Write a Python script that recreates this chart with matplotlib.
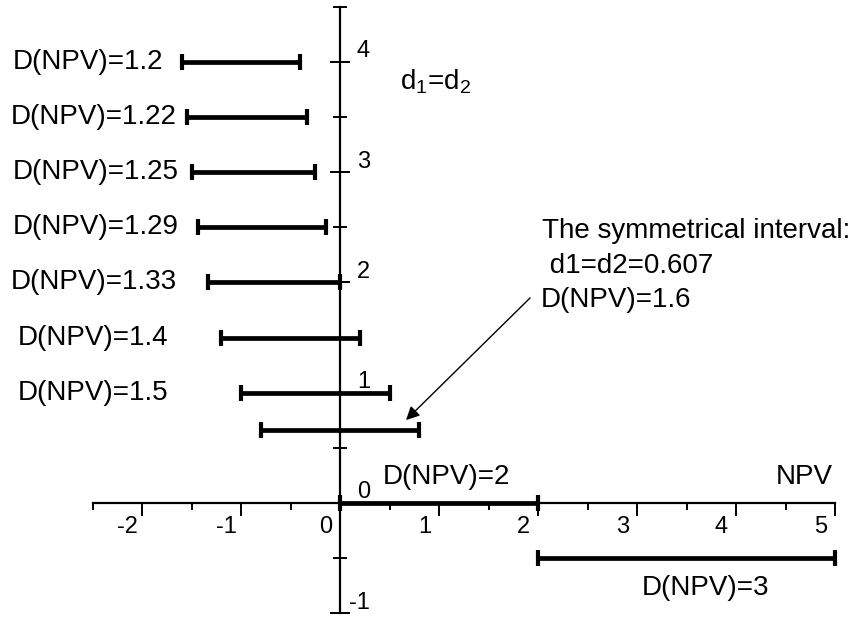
import matplotlib
matplotlib.use("Agg")
import matplotlib.pyplot as plt
from matplotlib.transforms import offset_copy

plt.rcParams['font.family'] = ['Liberation Sans', 'DejaVu Sans']
plt.rcParams['mathtext.fontset'] = 'custom'
plt.rcParams['mathtext.rm'] = 'Liberation Sans'
plt.rcParams['mathtext.it'] = 'Liberation Sans'

# ---- data ----
bar_labels = ["D(NPV)=1.2", "D(NPV)=1.22", "D(NPV)=1.25", "D(NPV)=1.29",
              "D(NPV)=1.33", "D(NPV)=1.4", "D(NPV)=1.5"]
bar_left = [-1.6, -1.55, -1.5, -1.43, -1.33, -1.2, -1.0]
bar_right = [-0.4, -0.33, -0.25, -0.14, 0.0, 0.2, 0.5]
bar_y = [4.0, 3.5, 3.0, 2.5, 2.0, 1.5, 1.0]
label_x = [-3.31, -3.33, -3.31, -3.31, -3.33, -3.26, -3.26]

sym_left, sym_right, sym_y = -0.8, 0.8, 0.66
d2_left, d2_right, d2_y = 0.0, 2.0, 0.0
d3_left, d3_right, d3_y = 2.0, 5.0, -0.5

x_ticks = [-2, -1, 0, 1, 2, 3, 4, 5]
x_ticklabels = ["-2", "-1", "0", "1", "2", "3", "4", "5"]
x_minor = [-2.5, -1.5, -0.5, 0.5, 1.5, 2.5, 3.5, 4.5]
y_ticks = [-1, 0, 1, 2, 3, 4]
y_ticklabels = ["-1", "0", "1", "2", "3", "4"]
y_minor = [-0.5, 0.5, 1.5, 2.5, 3.5, 4.5]

# ---- figure ----
fig = plt.figure(figsize=(8.51, 6.17), dpi=100)
ax = fig.add_axes([0, 0, 1, 1])
ax.set_xlim(-340 / 99, 511 / 99)
ax.set_ylim(-114 / 110.3, 503 / 110.3)
ax.patch.set_alpha(0)

for s in ['top', 'right']:
    ax.spines[s].set_visible(False)
ax.spines['left'].set_position(('data', 0))
ax.spines['bottom'].set_position(('data', 0))
ax.spines['bottom'].set_bounds(-2.5, 5)
ax.spines['left'].set_bounds(-1, 4.5)
for s in ['left', 'bottom']:
    ax.spines[s].set_linewidth(1.6)
    ax.spines[s].set_zorder(1)

ax.set_xticks(x_ticks)
ax.set_xticks(x_minor, minor=True)
ax.set_yticks(y_ticks)
ax.set_yticks(y_minor, minor=True)
ax.tick_params(axis='x', which='major', direction='out', length=9, width=1.4,
               labelbottom=False)
ax.tick_params(axis='x', which='minor', direction='out', length=5, width=1.4)
ax.tick_params(axis='y', which='major', direction='inout', length=14, width=1.4,
               labelleft=False)
ax.tick_params(axis='y', which='minor', direction='inout', length=10, width=1.4)

# tick labels (drawn as text, offset like the reference)
xt = offset_copy(ax.transData, fig=fig, x=-14.5 * 0.72, y=-24 * 0.72, units='points')
for v, lab in zip(x_ticks, x_ticklabels):
    ax.text(v, 0, lab, transform=xt, ha='center', va='center', fontsize=17)
yt = offset_copy(ax.transData, fig=fig, x=30 * 0.72, y=10.5 * 0.72, units='points')
for v, lab in zip(y_ticks, y_ticklabels):
    ax.text(0, v, lab, transform=yt, ha='right', va='center', fontsize=17)

bar_kw = dict(color='black', lw=3.4, marker='|', ms=11, mew=3.0,
              solid_capstyle='butt', zorder=3)

for l, r, y, lab, lx in zip(bar_left, bar_right, bar_y, bar_labels, label_x):
    ax.plot([l, r], [y, y], **bar_kw)
    ax.text(lx, y, lab, ha='left', va='center', fontsize=20)

ax.plot([sym_left, sym_right], [sym_y, sym_y], **bar_kw)
ax.plot([d2_left, d2_right], [d2_y, d2_y], **bar_kw)
ax.plot([d3_left, d3_right], [d3_y, d3_y], **bar_kw)

ax.text(0.434, 0.236, "D(NPV)=2", ha='left', va='center', fontsize=20)
ax.text(4.98, 0.236, "NPV", ha='right', va='center', fontsize=20)
ax.text(3.05, -0.77, "D(NPV)=3", ha='left', va='center', fontsize=20)

ax.text(0.606, 3.753, r"d$_1$=d$_2$", ha='left', va='baseline', fontsize=20)

ax.text(2.04, 2.40, "The symmetrical interval:", ha='left', va='baseline', fontsize=20)
ax.text(2.04, 2.085, " d1=d2=0.607", ha='left', va='baseline', fontsize=20)
ax.text(2.03, 1.777, "D(NPV)=1.6", ha='left', va='baseline', fontsize=20)

ax.annotate("", xy=(0.667, 0.752), xytext=(1.92, 1.859),
            arrowprops=dict(arrowstyle='-|>', lw=1.0, color='black',
                            mutation_scale=20, shrinkA=0, shrinkB=0))

fig.savefig("out.png", dpi=100)
